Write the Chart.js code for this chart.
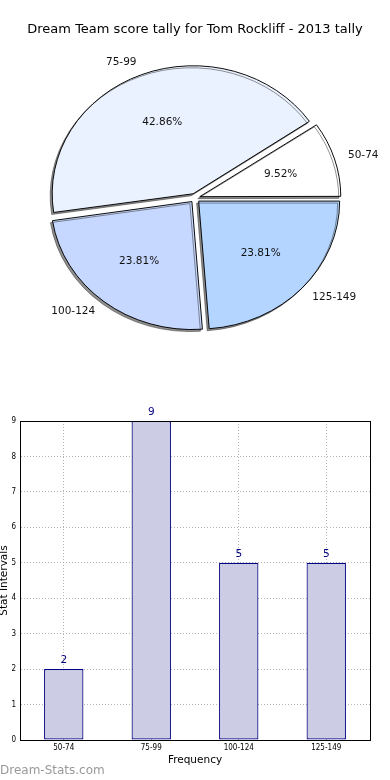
<!DOCTYPE html>
<html>
<head>
<meta charset="utf-8">
<script src="https://cdn.jsdelivr.net/npm/chart.js@4"></script>
<style>
  body { margin: 0; background: #fff; }
  #wrap { position: relative; width: 390px; height: 780px; overflow: hidden; }
  #pieChart { position: absolute; left: 0; top: 0; }
  #barChart { position: absolute; left: 0; top: 400px; }
  .brand {
    position: absolute; left: 0; top: 763px;
    font: 12px "DejaVu Sans", sans-serif; line-height: 14px; color: #999999;
  }
</style>
</head>
<body>
<div id="wrap">
  <canvas id="pieChart" width="390" height="400"></canvas>
  <canvas id="barChart" width="390" height="380"></canvas>
  <div class="brand">Dream-Stats.com</div>
</div>
<script>
// Score bins and how often each came up
const bins = ["50-74", "75-99", "100-124", "125-149"];
const counts = [2, 9, 5, 5];
const pieColors = ["#ffffff", "#ebf2ff", "#c6d8ff", "#b3d5ff"];
const yTicks = [0, 1, 2, 3, 4, 5, 6, 7, 8, 9];

const chartTitle = "Dream Team score tally for Tom Rockliff - 2013 tally";
const explode = 5; // px each slice is pulled out
const pieRadius = 141;
const squash = 128 / 141; // the original pie is a bit wider than tall

Chart.defaults.font.family = "'DejaVu Sans', sans-serif";
Chart.defaults.color = "#000";

// matplotlib draws its pie counter-clockwise from 3 o'clock,
// chart.js goes clockwise, so feed the slices in reverse
const pieBins = bins.slice().reverse();
const pieCounts = counts.slice().reverse();
const pieFill = pieColors.slice().reverse();
const total = counts.reduce((a, b) => a + b, 0);

// squash + drop shadow for the slices, then the text labels
const pieLook = {
  id: "pieLook",
  afterDatasetUpdate(chart) {
    // chart.js grows narrow offset slices a little, undo that
    chart.getDatasetMeta(0).data.forEach((arc) => {
      const sweep = arc.endAngle - arc.startAngle;
      const fix = 1 - Math.sin(Math.min(Math.PI, sweep));
      arc.outerRadius = pieRadius - explode * fix;
    });
  },
  beforeDatasetsDraw(chart) {
    const first = chart.getDatasetMeta(0).data[0];
    const ctx = chart.ctx;
    ctx.save();
    ctx.translate(first.x, first.y);
    ctx.scale(1, squash);
    ctx.translate(-first.x, -first.y);
    ctx.shadowColor = "rgba(50, 50, 50, 0.55)";
    ctx.shadowOffsetX = -2;
    ctx.shadowOffsetY = 2;
  },
  afterDatasetsDraw(chart) {
    const ctx = chart.ctx;
    ctx.restore();
    ctx.save();
    ctx.fillStyle = "#111";
    ctx.font = "10.5px 'DejaVu Sans', sans-serif";
    ctx.textBaseline = "middle";
    chart.getDatasetMeta(0).data.forEach((arc, i) => {
      const mid = (arc.startAngle + arc.endAngle) / 2;
      const cy = arc.y;
      const ax = arc.x + Math.cos(mid) * explode;
      const ay = cy + Math.sin(mid) * explode;
      const place = (k) => ({
        x: ax + Math.cos(mid) * pieRadius * k,
        y: cy + (ay + Math.sin(mid) * pieRadius * k - cy) * squash,
      });

      const pct = place(0.6);
      ctx.textAlign = "center";
      ctx.fillText(((pieCounts[i] / total) * 100).toFixed(2) + "%", pct.x, pct.y);

      const lab = place(1.1);
      ctx.textAlign = Math.cos(mid) > 0 ? "left" : "right";
      ctx.fillText(pieBins[i], lab.x, lab.y);
    });
    ctx.restore();
  },
};

new Chart(document.getElementById("pieChart"), {
  type: "pie",
  data: {
    labels: pieBins,
    datasets: [
      {
        data: pieCounts,
        backgroundColor: pieFill,
        borderColor: "#000",
        borderWidth: 1,
        offset: explode * 4,
        radius: pieRadius,
        clip: false,
      },
    ],
  },
  options: {
    responsive: false,
    animation: false,
    rotation: 90,
    layout: { padding: { top: 0, bottom: 51.6, left: 0, right: 0 } },
    plugins: {
      legend: { display: false },
      tooltip: { enabled: false },
      title: {
        display: true,
        text: chartTitle,
        color: "#000",
        font: { size: 13, weight: "normal" },
        padding: { top: 22, bottom: 10 },
      },
    },
  },
  plugins: [pieLook],
});

// box round the plot and the count on top of each bar
const frame = {
  id: "frame",
  afterDatasetsDraw(chart) {
    const { left, top, right, bottom } = chart.chartArea;
    const ctx = chart.ctx;
    ctx.save();
    ctx.strokeStyle = "#000";
    ctx.lineWidth = 1;
    ctx.strokeRect(Math.round(left) + 0.5, Math.round(top) + 0.5,
      Math.round(right - left), Math.round(bottom - top));
    ctx.fillStyle = "#000080";
    ctx.font = "10.5px 'DejaVu Sans', sans-serif";
    ctx.textAlign = "center";
    ctx.textBaseline = "middle";
    chart.getDatasetMeta(0).data.forEach((bar, i) => {
      ctx.fillText(String(counts[i]), bar.x, bar.y - 9);
    });
    ctx.restore();
  },
};

const gridGrey = "#b4b4b4";
const tickFont = { family: "'DejaVu Sans Condensed', 'DejaVu Sans', sans-serif", size: 8 };

new Chart(document.getElementById("barChart"), {
  type: "bar",
  data: {
    labels: bins,
    datasets: [
      {
        data: counts,
        backgroundColor: "rgb(204, 204, 229)",
        borderColor: "#000080",
        borderWidth: 1.2,
        borderSkipped: false,
        barPercentage: 0.45,
        categoryPercentage: 1,
      },
    ],
  },
  options: {
    responsive: false,
    animation: false,
    layout: { padding: { top: 21, right: 20, left: 0, bottom: 0 } },
    plugins: {
      legend: { display: false },
      tooltip: { enabled: false },
    },
    scales: {
      x: {
        grid: { color: gridGrey, offset: false, drawTicks: false },
        border: { display: true, color: "#000", dash: [1, 2] },
        ticks: { font: tickFont, color: "#000", padding: 3 },
        title: {
          display: true,
          text: "Frequency",
          color: "#000",
          font: { size: 10.5 },
          padding: { top: 0, bottom: 13.7 },
        },
        afterFit(scale) {
          scale.height = 40;
        },
      },
      y: {
        min: yTicks[0],
        max: yTicks[yTicks.length - 1],
        afterBuildTicks(scale) {
          scale.ticks = yTicks.map((v) => ({ value: v }));
        },
        grid: { color: gridGrey, drawTicks: false },
        border: { display: true, color: "#000", dash: [1, 2] },
        ticks: { font: tickFont, color: "#000", padding: 4 },
        title: {
          display: true,
          text: "Stat Intervals",
          color: "#000",
          font: { size: 10.5 },
          padding: { top: -2, bottom: 0 },
        },
        afterFit(scale) {
          scale.width = 20;
        },
      },
    },
  },
  plugins: [frame],
});
</script>
</body>
</html>
